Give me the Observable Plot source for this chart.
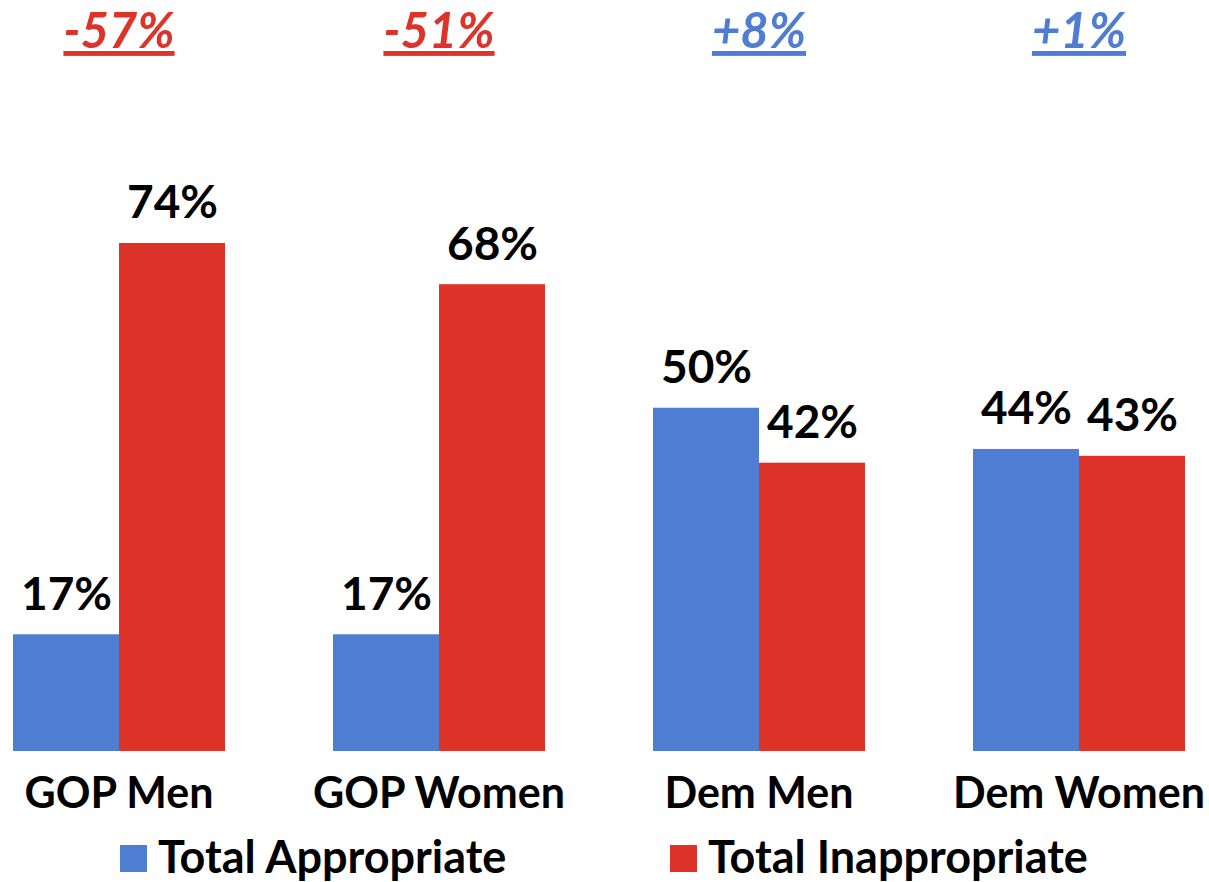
<!DOCTYPE html>
<html>
<head>
<meta charset="utf-8">
<script src="https://cdn.jsdelivr.net/npm/d3@7"></script>
<script src="https://cdn.jsdelivr.net/npm/@observablehq/plot@0.6"></script>
<style>
  html, body { margin: 0; padding: 0; background: #fff; }
  #wrap { width: 1209px; font-family: Lato, "Open Sans", sans-serif; }
  #legend { position: relative; width: 1209px; height: 52px; }
  .item { position: absolute; top: 13px; display: flex; align-items: center; font-weight: 700; font-size: 45px; color: #000; line-height: 27px; }
  .sw { width: 27px; height: 27px; margin-right: 11px; position: relative; top: 2px; }
</style>
</head>
<body>
<div id="wrap"></div>
<script>
const groups = ["GOP Men", "GOP Women", "Dem Men", "Dem Women"];
const series = ["Total Appropriate", "Total Inappropriate"];
const appropriate = [17, 17, 50, 44];
const inappropriate = [74, 68, 42, 43];
const colors = ["#4E7DD2", "#DD3329"];

const data = groups.flatMap((g, i) => [
  {group: g, series: series[0], value: appropriate[i]},
  {group: g, series: series[1], value: inappropriate[i]}
]);
const diffs = groups.map((g, i) => ({group: g, diff: appropriate[i] - inappropriate[i]}));

const chart = Plot.plot({
  width: 1209,
  height: 830,
  marginLeft: 12,
  marginRight: 23,
  marginTop: 64.5,
  marginBottom: 79,
  style: {fontFamily: "Lato, 'Open Sans', sans-serif", background: "#fff"},
  fx: {domain: groups, paddingInner: 1/3, paddingOuter: 0, axis: null},
  x: {domain: series, padding: 0, axis: null},
  y: {domain: [0, 100], axis: null},
  color: {domain: series, range: colors},
  marks: [
    Plot.barY(data, {fx: "group", x: "series", y: "value", fill: "series"}),
    Plot.text(data, {fx: "group", x: "series", y: "value", text: d => d.value + "%", dy: -25, lineAnchor: "bottom", fontSize: 46, fontWeight: 700, fill: "#000"}),
    Plot.text(groups, {fx: d => d, text: d => d, frameAnchor: "bottom", dy: 56, lineAnchor: "bottom", fontSize: 43, fontWeight: 700, fill: "#000"}),
    Plot.text(diffs, {fx: "group", text: d => (d.diff > 0 ? "+" : "") + d.diff + "%", frameAnchor: "top", dy: -17, lineAnchor: "bottom", fontSize: 49, fontWeight: 700, fontStyle: "italic", fill: d => d.diff < 0 ? series[1] : series[0], ariaDescription: "diff"})
  ]
});
chart.querySelectorAll('g[aria-description="diff"] text').forEach(t => {
  t.style.textDecoration = "underline";
  t.style.textDecorationThickness = "3px";
  t.style.textUnderlineOffset = "6px";
});
document.getElementById("wrap").appendChild(chart);

const legend = document.createElement("div");
legend.id = "legend";
const lefts = [120, 670];
series.forEach((s, i) => {
  const item = document.createElement("div");
  item.className = "item";
  item.style.left = lefts[i] + "px";
  const sw = document.createElement("span");
  sw.className = "sw";
  sw.style.background = colors[i];
  const label = document.createElement("span");
  label.textContent = s;
  item.appendChild(sw);
  item.appendChild(label);
  legend.appendChild(item);
});
document.getElementById("wrap").appendChild(legend);
</script>
</body>
</html>
